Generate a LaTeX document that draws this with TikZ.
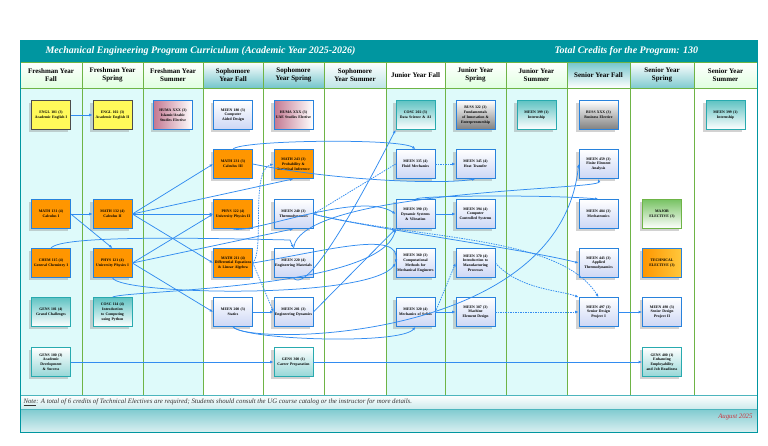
\documentclass[tikz,border=0pt]{standalone}
\usepackage{fontspec}
\setmainfont{Liberation Serif}
\usetikzlibrary{arrows.meta,shadows}
\definecolor{tl}{RGB}{0,150,160}
\definecolor{arc}{RGB}{50,140,240}
\definecolor{cy}{RGB}{222,250,250}
\definecolor{gl}{RGB}{110,180,70}
\definecolor{bb}{RGB}{40,130,220}
\definecolor{org}{RGB}{255,150,0}
\definecolor{yl}{RGB}{255,250,90}
\definecolor{mb}{RGB}{205,215,245}
\definecolor{tb}{RGB}{40,170,175}
\definecolor{tf}{RGB}{95,195,195}
\definecolor{tlf}{RGB}{150,215,215}
\definecolor{pk}{RGB}{195,120,145}
\definecolor{gf}{RGB}{120,195,100}
\definecolor{oy}{RGB}{255,200,60}
\definecolor{rd}{RGB}{200,50,60}
\begin{document}
\begin{tikzpicture}[x=1pt,y=-1pt,
 box/.style={minimum width=39pt,minimum height=29pt,text width=38pt,align=center,inner sep=0.5pt,
   font=\fontsize{3.8}{4.8}\selectfont\bfseries,line width=0.7pt,
   execute at begin node={\hyphenpenalty=10000\exhyphenpenalty=10000},
   drop shadow={shadow xshift=-3pt,shadow yshift=-2pt,opacity=0.35}},
 yel/.style={box,fill=yl,draw=black!70},
 ora/.style={box,fill=org,draw=bb},
 mee/.style={box,draw=bb,top color=white,bottom color=mb},
 tea/.style={box,draw=tb,top color=tf,bottom color=white},
 tlt/.style={box,draw=tb,top color=white,bottom color=tlf},
 pnk/.style={box,draw=bb,left color=pk,right color=white},
 gry/.style={box,draw=bb,top color=white,bottom color=black!50},
 grn/.style={box,draw=gl,top color=gf,bottom color=white},
 ote/.style={box,draw=bb,left color=org,right color=oy},
 ar/.style={draw=arc,line width=0.75pt,-{Latex[length=3.5pt,width=2.8pt]}},
 da/.style={ar,dash pattern=on 1.5pt off 1pt},
 hd/.style={align=center,font=\fontsize{7}{8}\selectfont\bfseries}
]
\useasboundingbox (0,0) rectangle (768,445);
\fill[white] (0,0) rectangle (768,445);
\fill[cy] (20,88) rectangle (203,395);
\fill[cy] (386,88) rectangle (567,395);
\foreach \x in {82,143,203,263,324,386,445,506,567,630,694}{\draw[gl,line width=0.8pt] (\x,88)--(\x,395);}
\def\hb#1#2#3#4{\shade[top color=#3,bottom color=#4,draw=gl,line width=0.8pt] (#1,62) rectangle (#2,88);}
\hb{20}{82}{white}{green!12}\hb{82}{143}{white}{green!12}\hb{143}{203}{white}{green!12}
\hb{203}{263}{white}{tl!55}\hb{263}{324}{white}{tl!55}\hb{324}{386}{white}{tl!25}
\hb{386}{445}{white}{white}\hb{445}{506}{white}{green!12}\hb{506}{567}{white}{green!12}
\hb{567}{630}{tl!55}{white}\hb{630}{694}{white}{tl!50}\hb{694}{757}{white}{green!12}
\node[hd] (h1) at (51,75) {Freshman Year\\Fall};
\node[hd] (h2) at (112.5,75) {Freshman Year\\Spring};
\node[hd] (h3) at (173,75) {Freshman Year\\Summer};
\node[hd] (h4) at (233,75) {Sophomore\\Year Fall};
\node[hd] (h5) at (293.5,75) {Sophomore\\Year Spring};
\node[hd] (h6) at (355,75) {Sophomore\\Year Summer};
\node[hd] (h7) at (415.5,75) {Junior Year Fall};
\node[hd] (h8) at (475.5,75) {Junior Year\\Spring};
\node[hd] (h9) at (536.5,75) {Junior Year\\Summer};
\node[hd] (h10) at (598.5,75) {Senior Year Fall};
\node[hd] (h11) at (662,75) {Senior Year\\Spring};
\node[hd] (h12) at (725.5,75) {Senior Year\\Summer};
\fill[tl] (20,40) rectangle (757,62);
\node[text=white,font=\fontsize{10}{12}\selectfont\bfseries\itshape,anchor=west] (title) at (42,51) {Mechanical Engineering Program Curriculum (Academic Year 2025-2026)};
\node[text=white,font=\fontsize{10}{12}\selectfont\bfseries\itshape,anchor=west] (tot) at (551,51) {Total Credits for the Program: 130};
\shade[top color=white,bottom color=tl!20,draw=tl!70] (20,395) rectangle (757,409);
\node[anchor=west,font=\fontsize{6.8}{8}\selectfont\itshape,text=black!80] (note) at (20,402) {\underline{Note}: A total of 6 credits of Technical Electives are required; Students should consult the UG course catalog or the instructor for more details.};
\shade[top color=tl!50,bottom color=tl!15,draw=tl!70] (20,409) rectangle (757,432);
\node[anchor=east,font=\fontsize{6.8}{8}\selectfont\itshape,text=rd] (date) at (756,417) {August 2025};
\draw[tl,line width=1pt] (20,40) rectangle (757,432);
\node[yel] (e101) at (51,115) {ENGL 101 (3)\\Academic English I};
\node[yel] (e102) at (112.5,115) {ENGL 102 (3)\\Academic English II};
\node[pnk] (h1x) at (173,115) {HUMA XXX (3)\\Islamic/Arabic Studies Elective};
\node[mee] (m180) at (233,115) {MEEN 180 (3)\\Computer Aided Design};
\node[pnk] (h2x) at (293.5,115) {HUMA XXX (3)\\UAE Studies Elective};
\node[tea] (c202) at (415.5,115) {COSC 202 (3)\\Data Science \& AI};
\node[gry] (b322) at (475.5,115) {BUSS 322 (3)\\Fundamentals of Innovation \& Entrepreneurship};
\node[tea] (i1) at (536.5,115) {MEEN 399 (1)\\Internship};
\node[gry] (bxx) at (598.5,115) {BUSS XXX (3)\\Business Elective};
\node[tea] (i2) at (725.5,115) {MEEN 399 (1)\\Internship};
\node[ora] (m231) at (233,164) {MATH 231 (3)\\Calculus III};
\node[ora] (m243) at (293.5,164) {MATH 243 (3)\\Probability \& Statistical Inference};
\node[mee] (m335) at (415.5,164) {MEEN 335 (4)\\Fluid Mechanics};
\node[mee] (m345) at (475.5,164) {MEEN 345 (4)\\Heat Transfer};
\node[mee] (m459) at (598.5,164) {MEEN 459 (3)\\Finite Element Analysis};
\node[ora] (m131) at (51,214) {MATH 131 (4)\\Calculus I};
\node[ora] (m132) at (112.5,214) {MATH 132 (4)\\Calculus II};
\node[ora] (p122) at (233,214) {PHYS 122 (4)\\University Physics II};
\node[mee] (m240) at (293.5,214) {MEEN 240 (3)\\Thermodynamics};
\node[mee] (m390) at (415.5,214) {MEEN 390 (3)\\Dynamic Systems \& Vibration};
\node[mee] (m394) at (475.5,214) {MEEN 394 (4)\\Computer Controlled Systems};
\node[mee] (m484) at (598.5,214) {MEEN 484 (3)\\Mechatronics};
\node[grn] (mel) at (662,214) {MAJOR\\ELECTIVE (3)};
\node[ora] (c115) at (51,263) {CHEM 115 (4)\\General Chemistry I};
\node[ora] (p121) at (112.5,263) {PHYS 121 (4)\\University Physics I};
\node[ora] (m211) at (233,263) {MATH 211 (4)\\Differential Equations \& Linear Algebra};
\node[mee] (m220) at (293.5,263) {MEEN 220 (4)\\Engineering Materials};
\node[mee] (m360) at (415.5,263) {MEEN 360 (3)\\Computational Methods for Mechanical Engineers};
\node[mee] (m370) at (475.5,263) {MEEN 370 (4)\\Introduction to Manufacturing Processes};
\node[mee] (m443) at (598.5,263) {MEEN 443 (3)\\Applied Thermodynamics};
\node[ote] (tel) at (662,263) {TECHNICAL\\ELECTIVE (3)};
\node[tea] (g101) at (51,312) {GENS 101 (4)\\Grand Challenges};
\node[tea] (c114) at (112.5,312) {COSC 114 (4)\\Introduction to Computing using Python};
\node[mee] (m200) at (233,312) {MEEN 200 (3)\\Statics};
\node[mee] (m201) at (293.5,312) {MEEN 201 (3)\\Engineering Dynamics};
\node[mee] (m320) at (415.5,312) {MEEN 320 (4)\\Mechanics of Solids};
\node[mee] (m387) at (475.5,312) {MEEN 387 (3)\\Machine Element Design};
\node[mee] (m497) at (598.5,312) {MEEN 497 (3)\\Senior Design Project I};
\node[mee] (m498) at (662,312) {MEEN 498 (3)\\Senior Design Project II};
\node[tlt] (g100) at (51,362) {GENS 100 (3)\\Academic Development \& Success};
\node[tlt] (g300) at (293.5,362) {GENS 300 (1)\\Career Preparation};
\node[tlt] (g400) at (662,362) {GENS 400 (1)\\Enhancing Employability and Job Readiness};
\draw[ar] (e101)--(e102);
\draw[ar] (m131)--(m132);
\draw[ar] (m131.east)--(p121.north);
\draw[ar] (m132.east)--(m231.west);
\draw[ar] (m132.east)--(p122.west);
\draw[ar] (m132.east)--(m211.west);
\draw[ar] (m132.east)--(m243.south);
\draw[ar] (p121.east)--(p122.west);
\draw[ar] (p121.east)--(m240.south);
\draw[ar] (p121.east)--(m200.west);
\draw[ar] (p121.south) .. controls (120,295) and (370,300) .. (m360.west);
\draw[ar] (c114.north) .. controls (125,290) and (380,290) .. (m390.south west);
\draw[ar] (c115.north) .. controls (60,235) and (200,238) .. (290,240) -- (m220.north);
\draw[ar] (m231.north) .. controls (240,140) and (400,138) .. (m335.north);
\draw[ar] (p122.south) .. controls (250,235) and (360,190) .. (m390.west);
\draw[da] (m211.east) .. controls (265,250) and (250,170) .. (m243.west);
\draw[da] (m211.east)--(m201.west);
\draw[ar] (m211.east) .. controls (330,250) and (400,230) .. (m360.west);
\draw[ar] (m200)--(m201);
\draw[ar] (m200.south) .. controls (245,340) and (400,345) .. (m320.south);
\draw[ar] (m200.south) .. controls (245,345) and (560,345) .. (m459.west);
\draw[ar] (m201.east)--(m390.south west);
\draw[da] (m335.west)--(m240.east);
\draw[ar] (m240.east) .. controls (350,225) and (530,250) .. (m443.west);
\draw[ar] (m231.east) .. controls (330,180) and (440,185) .. (m345.south);
\draw[ar] (m220.north) .. controls (300,190) and (600,190) .. (m459.south);
\draw[ar] (m220.south) .. controls (310,300) and (385,150) .. (c202.south west);
\draw[da] (m335)--(m345);
\draw[ar] (m390)--(m394);
\draw[ar] (m390.north) .. controls (420,195) and (560,195) .. (m484.north);
\draw[ar] (m320)--(m387);
\draw[da] (m320.east)--(m370.west);
\draw[da] (m387)--(m497);
\draw[da] (m370.east) .. controls (520,290) and (560,290) .. (m497.north west);
\draw[da] (m240.east) .. controls (420,240) and (560,235) .. (m497.north);
\draw[ar] (m497)--(m498);
\draw[ar] (g100)--(g300);
\draw[ar] (g300)--(g400);
\end{tikzpicture}
\end{document}
